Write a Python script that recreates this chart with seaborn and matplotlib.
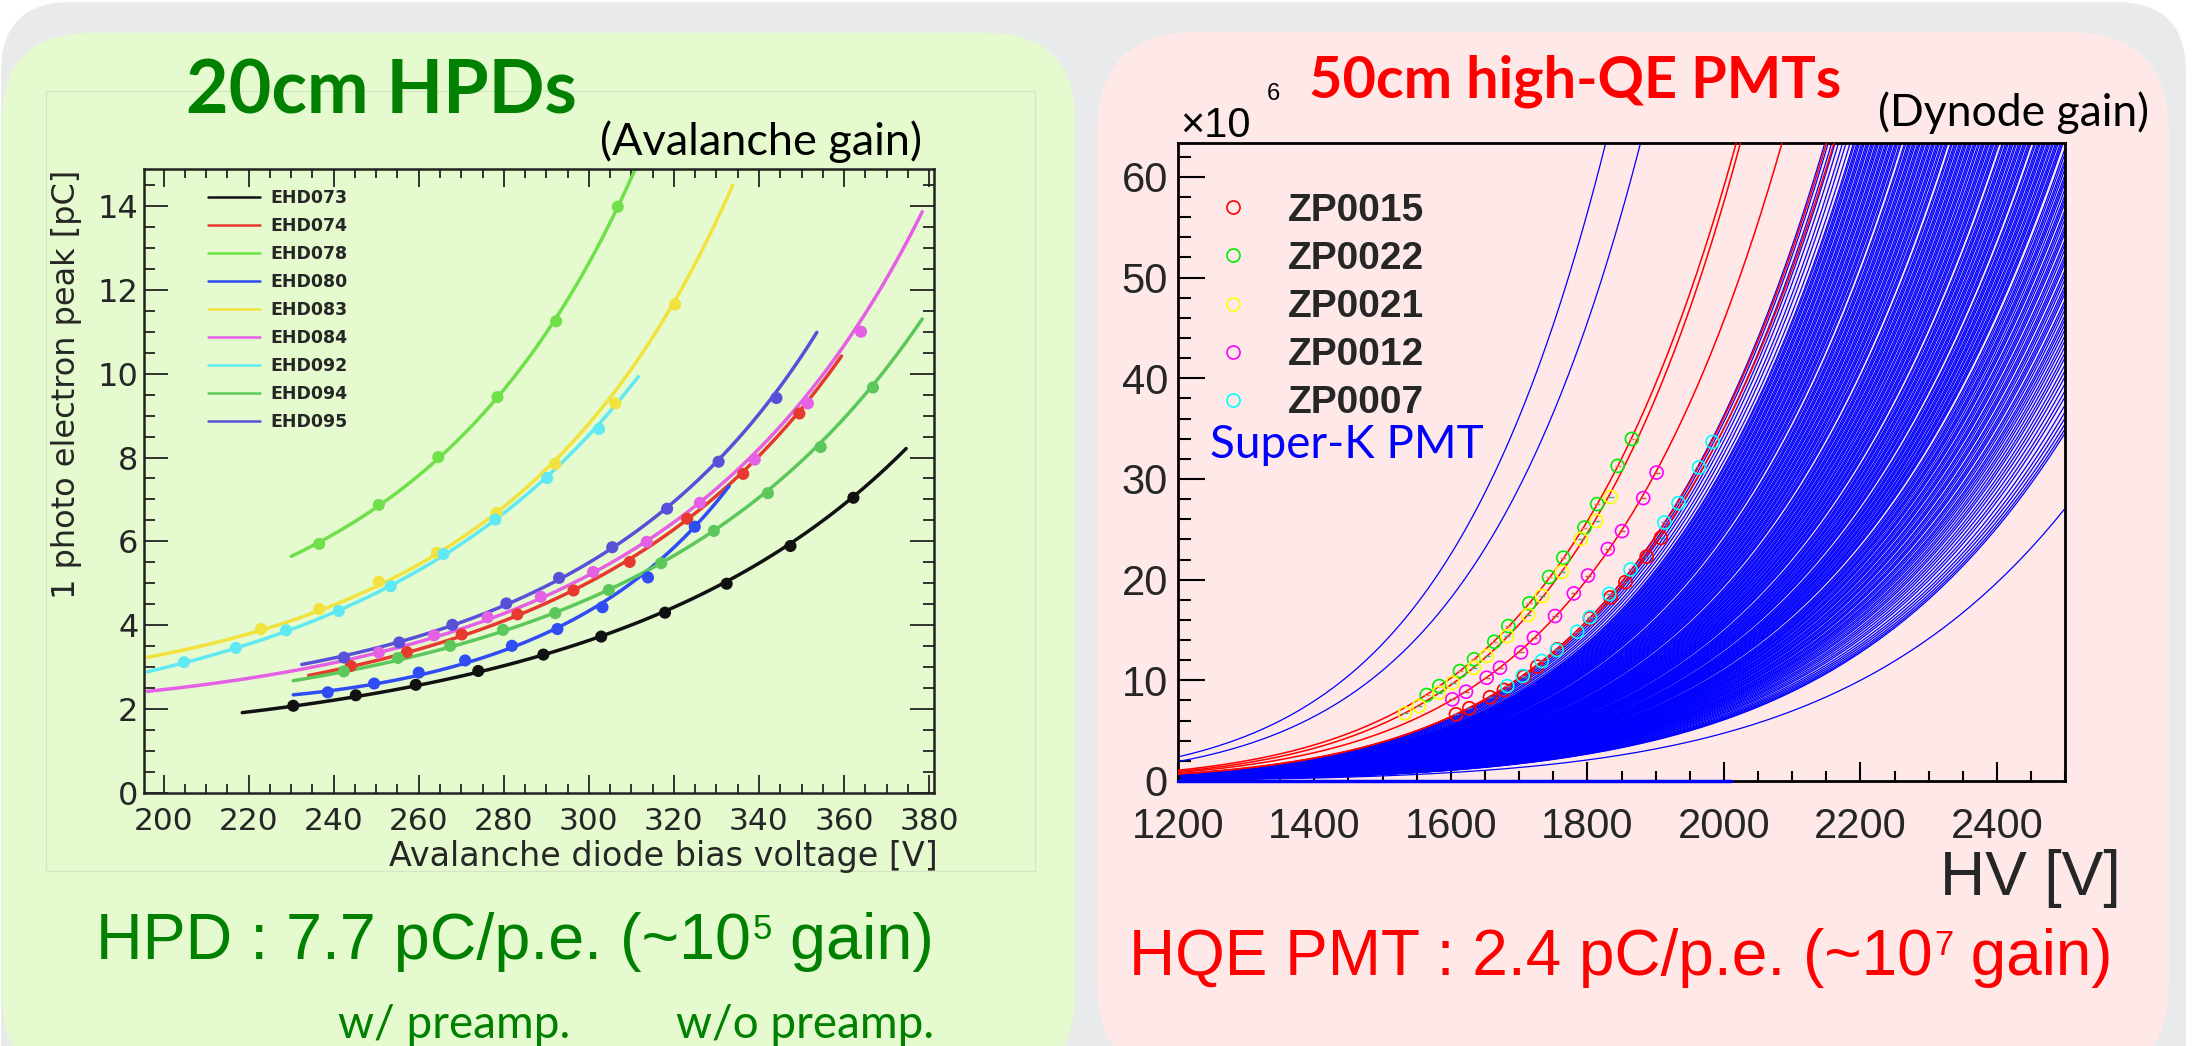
import numpy as np
import pandas as pd
import matplotlib
matplotlib.use("Agg")
import matplotlib.pyplot as plt
import seaborn as sns
from matplotlib.patches import FancyBboxPatch, Rectangle
from matplotlib.lines import Line2D
from matplotlib.ticker import MultipleLocator

# ---------------- LEFT PANEL DATA: 20cm HPD, 1 p.e. peak [pC] vs avalanche bias [V] ----------------
hpd_names = ["EHD073", "EHD074", "EHD078", "EHD080", "EHD083", "EHD084", "EHD092", "EHD094", "EHD095"]
hpd_colors = ["#111111", "#e63a2e", "#6fe04a", "#2f4cf5", "#f2e23e", "#e660e6", "#60e9f2", "#5cc85c", "#5850d8"]

ehd073_v = [230.5, 245.2, 259.3, 274.0, 289.3, 302.9, 317.9, 332.4, 347.4, 362.2]
ehd073_q = [2.08, 2.33, 2.58, 2.91, 3.30, 3.73, 4.30, 4.99, 5.89, 7.04]
ehd074_v = [244.0, 257.2, 270.1, 283.2, 296.4, 309.6, 323.1, 336.3, 349.5]
ehd074_q = [3.03, 3.36, 3.78, 4.26, 4.83, 5.51, 6.54, 7.61, 9.05]
ehd078_v = [236.6, 250.6, 264.6, 278.5, 292.3, 306.8]
ehd078_q = [5.94, 6.87, 8.01, 9.44, 11.25, 13.98]
ehd080_v = [238.6, 249.5, 260.0, 270.9, 281.9, 292.6, 303.2, 313.9, 324.9]
ehd080_q = [2.40, 2.61, 2.87, 3.16, 3.51, 3.91, 4.43, 5.14, 6.35]
ehd083_v = [222.9, 236.6, 250.6, 264.3, 278.3, 292.1, 306.2, 320.3]
ehd083_q = [3.91, 4.39, 5.04, 5.73, 6.68, 7.85, 9.29, 11.65]
ehd084_v = [250.6, 263.6, 276.2, 288.7, 301.0, 313.6, 326.1, 339.0, 351.5, 364.0]
ehd084_q = [3.35, 3.76, 4.19, 4.68, 5.27, 5.99, 6.92, 7.95, 9.29, 11.0]
ehd092_v = [204.8, 217.0, 228.8, 241.2, 253.4, 265.8, 278.0, 290.2, 302.4]
ehd092_q = [3.12, 3.46, 3.88, 4.34, 4.93, 5.70, 6.52, 7.51, 8.68]
ehd094_v = [242.4, 255.1, 267.4, 279.8, 292.1, 304.7, 317.0, 329.4, 342.1, 354.5, 366.8]
ehd094_q = [2.90, 3.22, 3.51, 3.89, 4.29, 4.84, 5.48, 6.25, 7.15, 8.25, 9.67]
ehd095_v = [242.4, 255.4, 267.9, 280.6, 293.0, 305.5, 318.4, 330.5, 344.1]
ehd095_q = [3.23, 3.59, 4.01, 4.52, 5.13, 5.86, 6.78, 7.90, 9.42]

# ends of each fit line (start V, start Q, end V, end Q)
fit_start_v = [218.5, 234.1, 230.0, 230.5, 196.2, 196.2, 196.2, 230.5, 232.5]
fit_start_q = [1.88, 2.77, 5.66, 2.32, 3.19, 2.40, 2.87, 2.63, 3.09]
fit_end_v = [374.6, 359.4, 310.8, 333.0, 333.8, 378.4, 311.6, 378.4, 353.6]
fit_end_q = [8.36, 10.54, 14.9, 7.54, 14.9, 14.5, 10.06, 11.53, 11.16]

# ---------------- RIGHT PANEL DATA: 50cm PMT gain [x10^6] vs HV [V] ----------------
zp_names = ["ZP0015", "ZP0022", "ZP0021", "ZP0012", "ZP0007"]
zp_colors = ["#ff0000", "#00ee00", "#ffff00", "#ff00ff", "#00ffff"]

zp0015_hv = [1607.6, 1627.1, 1657.4, 1677.9, 1707.2, 1726.7, 1756.0, 1803.8, 1834.0, 1855.8, 1886.9, 1907.7]
zp0015_gain = [6.62, 7.22, 8.31, 9.04, 10.36, 11.36, 13.08, 16.16, 18.23, 19.75, 22.28, 24.15]
zp0022_hv = [1564.7, 1583.1, 1613.4, 1634.0, 1663.7, 1684.2, 1715.0, 1743.9, 1764.7, 1795.8, 1814.4, 1844.4, 1865.2]
zp0022_gain = [8.54, 9.43, 10.92, 12.09, 13.83, 15.39, 17.65, 20.26, 22.18, 25.17, 27.50, 31.30, 33.98]
zp0021_hv = [1532.9, 1553.4, 1583.1, 1602.8, 1633.9, 1652.5, 1682.7, 1713.2, 1733.5, 1762.6, 1790.5, 1813.4, 1834.0]
zp0021_gain = [6.72, 7.45, 8.77, 9.76, 11.25, 12.41, 14.40, 16.50, 18.38, 20.77, 24.05, 25.83, 28.21]
zp0012_hv = [1602.2, 1622.2, 1652.5, 1672.0, 1702.8, 1721.8, 1752.6, 1780.2, 1800.9, 1829.9, 1850.7, 1881.8, 1901.4]
zp0012_gain = [8.11, 8.87, 10.26, 11.25, 12.78, 14.23, 16.39, 18.63, 20.41, 23.04, 24.82, 28.10, 30.64]
zp0007_hv = [1682.7, 1705.3, 1733.1, 1755.1, 1785.2, 1803.8, 1832.0, 1863.2, 1912.8, 1933.5, 1963.6, 1983.3]
zp0007_gain = [9.43, 10.43, 11.92, 13.01, 14.83, 16.26, 18.58, 21.01, 25.68, 27.60, 31.15, 33.68]

# Super-K PMT gain curves: HV where each curve leaves the top of the frame,
# or gain where it leaves the right edge (2500 V); common power-law index
sk_hv_at_top = [1827, 1878, 2148, 2153, 2158, 2163, 2168, 2174, 2179, 2185,
                2190, 2192, 2195, 2197, 2199, 2202, 2204, 2206, 2209, 2211, 2213, 2216, 2218, 2220,
                2223, 2225, 2227, 2230, 2232, 2234, 2237, 2239, 2241, 2244, 2246, 2248, 2251, 2253,
                2255, 2258, 2260, 2265, 2267, 2270, 2272, 2274, 2277, 2279, 2281, 2284, 2286, 2288,
                2291, 2293, 2295, 2298, 2300, 2302, 2305, 2307, 2309, 2312, 2314, 2316, 2319, 2321,
                2324, 2326, 2328, 2333, 2335, 2338, 2340, 2342, 2345, 2347, 2349, 2352, 2354, 2356,
                2359, 2361, 2363, 2366, 2368, 2370, 2373, 2375, 2378, 2380, 2382, 2385, 2387, 2389,
                2392, 2394, 2396, 2399, 2401, 2403, 2408, 2410, 2413, 2415, 2417, 2420, 2422, 2424,
                2427, 2429, 2432, 2434, 2436, 2439, 2441, 2443, 2446, 2448, 2450, 2455, 2457, 2460,
                2462, 2464, 2467, 2469, 2471, 2474, 2476, 2478, 2481, 2483, 2486, 2488, 2490, 2493,
                2495, 2497]
sk_gain_at_2500 = [62.9, 62.4, 61.8, 61.4, 60.9, 60.3, 59.9, 59.5, 58.9, 58.3, 57.9, 57.5, 56.8, 56.4,
                   55.9, 55.3, 54.9, 54.5, 53.8, 53.4, 52.9, 52.3, 51.9, 51.5, 50.8, 50.4, 49.9, 49.3,
                   48.9, 48.5, 47.8, 47.4, 46.9, 46.3, 45.9, 45.4, 44.9, 44.3, 43.8, 43.2, 42.6, 42.1,
                   41.4, 40.8, 40.2, 39.5, 38.8, 38.2, 37.4, 36.7, 36.1, 35.5, 35.0, 34.6, 27.1]
sk_gain_index = 7.8
sk_flat_hv = [1200, 2010]
sk_flat_gain = [0.0, 0.0]

X_RANGE_L = (195.4, 381.15)
Y_RANGE_L = (0, 14.88)
X_RANGE_R = (1200, 2500)
Y_RANGE_R = (0, 63.4)

# ---------------- build tables ----------------
hpd_v = [ehd073_v, ehd074_v, ehd078_v, ehd080_v, ehd083_v, ehd084_v, ehd092_v, ehd094_v, ehd095_v]
hpd_q = [ehd073_q, ehd074_q, ehd078_q, ehd080_q, ehd083_q, ehd084_q, ehd092_q, ehd094_q, ehd095_q]
pts_rows, line_rows = [], []
for i, name in enumerate(hpd_names):
    v = np.array(hpd_v[i]); q = np.array(hpd_q[i])
    for a, b in zip(v, q):
        pts_rows.append((name, a, b))
    vv = np.concatenate([[fit_start_v[i]], v, [fit_end_v[i]]])
    qq = np.concatenate([[fit_start_q[i]], q, [fit_end_q[i]]])
    coef = np.polyfit(vv - 300.0, np.log(qq), 2)
    grid = np.linspace(fit_start_v[i], fit_end_v[i], 120)
    for a, b in zip(grid, np.exp(np.polyval(coef, grid - 300.0))):
        line_rows.append((name, a, b))
hpd_pts = pd.DataFrame(pts_rows, columns=["device", "V", "Q"])
hpd_lines = pd.DataFrame(line_rows, columns=["device", "V", "Q"])

sk_rows = []
pid = 0
for vt in sk_hv_at_top:
    grid = np.linspace(1200, min(vt * 1.01, 2500), 150)
    for a, b in zip(grid, Y_RANGE_R[1] * (grid / vt) ** sk_gain_index):
        sk_rows.append((pid, a, b))
    pid += 1
for g in sk_gain_at_2500:
    grid = np.linspace(1200, 2500, 150)
    for a, b in zip(grid, g * (grid / 2500.0) ** sk_gain_index):
        sk_rows.append((pid, a, b))
    pid += 1
sk_df = pd.DataFrame(sk_rows, columns=["pmt", "hv", "gain"])

zp_hv = [zp0015_hv, zp0022_hv, zp0021_hv, zp0012_hv, zp0007_hv]
zp_gain = [zp0015_gain, zp0022_gain, zp0021_gain, zp0012_gain, zp0007_gain]
zfit_rows = []
for i, name in enumerate(zp_names):
    k, c = np.polyfit(np.log(zp_hv[i]), np.log(zp_gain[i]), 1)
    grid = np.linspace(1200, 2250, 200)
    for a, b in zip(grid, np.exp(c) * grid ** k):
        zfit_rows.append((name, a, b))
zfit = pd.DataFrame(zfit_rows, columns=["zp", "hv", "gain"])

# ---------------- figure ----------------
sns.set_theme(style="ticks")
plt.rcParams["font.family"] = ["DejaVu Sans"]
plt.rcParams["axes.unicode_minus"] = False

W, H = 2209, 1046
fig = plt.figure(figsize=(W / 100, H / 100), dpi=100)
fig.patch.set_facecolor("white")
bg = fig.add_axes([0, 0, 1, 1], zorder=0)
bg.set_xlim(0, W); bg.set_ylim(H, 0); bg.axis("off")


def rbox(x0, y0, x1, y1, r, fc):
    bg.add_patch(FancyBboxPatch((x0, y0), x1 - x0, y1 - y0,
                                boxstyle=f"round,pad=0,rounding_size={r}", fc=fc, ec="none"))


rbox(1, 2, 2186, 1300, 70, "#e9eaec")
rbox(2, 33, 1075, 1083, 88, "#e5face")
rbox(1097, 32, 2169, 1083, 100, "#fee8e8")
bg.add_patch(Rectangle((45.6, 90.7), 989.4, 780, fill=False, ec="#d4e4c6", lw=0.8))

# ---- left axes ----
axl = fig.add_axes([144 / W, (H - 793) / H, 790 / W, 624 / H], zorder=2)
axl.set_facecolor("none")
pal_l = dict(zip(hpd_names, hpd_colors))
sns.lineplot(data=hpd_lines, x="V", y="Q", hue="device", palette=pal_l, hue_order=hpd_names,
             estimator=None, sort=False, lw=2.5, legend=False, ax=axl)
sns.scatterplot(data=hpd_pts, x="V", y="Q", hue="device", palette=pal_l, hue_order=hpd_names,
                s=76, linewidth=0, legend=False, ax=axl, zorder=3)
axl.set_xlim(*X_RANGE_L); axl.set_ylim(*Y_RANGE_L)
axl.xaxis.set_major_locator(MultipleLocator(20)); axl.xaxis.set_minor_locator(MultipleLocator(5))
axl.yaxis.set_major_locator(MultipleLocator(2)); axl.yaxis.set_minor_locator(MultipleLocator(0.5))
axl.tick_params(which="both", direction="in", top=True, right=True, color="#222222", width=1.3)
axl.tick_params(axis="x", which="major", length=13, pad=10, labelsize=22.5)
axl.tick_params(axis="x", which="minor", length=6.5)
axl.tick_params(axis="y", which="major", length=17, pad=4, labelsize=23)
axl.tick_params(axis="y", which="minor", length=8)
for s in axl.spines.values():
    s.set_color("#222222"); s.set_linewidth(1.8)
axl.set_xlabel("Avalanche diode bias voltage [V]", fontsize=24)
axl.xaxis.set_label_coords((938 - 144) / 790, (793 - 866) / 624)
axl.xaxis.label.set(ha="right", va="baseline")
axl.set_ylabel("1 photo electron peak [pC]", fontsize=23)
axl.yaxis.set_label_coords((67 - 144) / 790, (793 - 170) / 624)
axl.yaxis.label.set(ha="center", va="top", rotation_mode="default")
hl = [Line2D([], [], color=c, lw=1.8) for c in hpd_colors]
axl.legend(hl, hpd_names, loc="upper left", bbox_to_anchor=(208 / W, 1 - 189 / H),
           bbox_transform=fig.transFigure, frameon=False,
           prop=dict(family="DejaVu Sans", weight="bold", size=12.5),
           handlelength=3.0, handletextpad=0.6, labelspacing=0.575, borderpad=0, borderaxespad=0)

# ---- right axes ----
axr = fig.add_axes([1177.7 / W, (H - 781) / H, 887.6 / W, 638.3 / H], zorder=2)
axr.set_facecolor("none")
sns.lineplot(data=sk_df, x="hv", y="gain", units="pmt", estimator=None, sort=False,
             color="#0000ff", lw=0.9, ax=axr)
sns.lineplot(x=sk_flat_hv, y=sk_flat_gain, color="#0000ff", lw=2.5, ax=axr, clip_on=False, zorder=4)
sns.lineplot(data=zfit, x="hv", y="gain", units="zp", estimator=None, sort=False,
             color="#ff0000", lw=1.1, ax=axr, zorder=3)
for i, name in enumerate(zp_names):
    sns.scatterplot(x=zp_hv[i], y=zp_gain[i], marker="o", s=88, facecolor="none",
                    edgecolor=zp_colors[i], linewidth=1.2, ax=axr, zorder=5)
    sns.scatterplot(x=zp_hv[i], y=zp_gain[i], marker="_", s=25, edgecolor=zp_colors[i],
                    linewidth=1.0, ax=axr, zorder=5)
axr.set_xlim(*X_RANGE_R); axr.set_ylim(*Y_RANGE_R)
axr.xaxis.set_major_locator(MultipleLocator(200)); axr.xaxis.set_minor_locator(MultipleLocator(50))
axr.yaxis.set_major_locator(MultipleLocator(10)); axr.yaxis.set_minor_locator(MultipleLocator(2))
axr.tick_params(which="both", direction="in", top=False, right=False, color="black", width=1.5,
                labelfontfamily="Liberation Sans")
axr.tick_params(axis="x", which="major", length=13.7, pad=19, labelsize=30)
axr.tick_params(axis="x", which="minor", length=7.2)
axr.tick_params(axis="y", which="major", length=19.4, pad=7, labelsize=30)
axr.tick_params(axis="y", which="minor", length=9.4)
for s in axr.spines.values():
    s.set_color("black"); s.set_linewidth(2.0)
axr.set_ylabel("")
axr.set_xlabel("HV [V]", fontsize=45, family="Liberation Sans")
axr.xaxis.set_label_coords((2121 - 1177.7) / 887.6, (781 - 895) / 638.3)
axr.xaxis.label.set(ha="right", va="baseline")
zh = [Line2D([], [], marker="o", ls="none", mfc="none", mec=c, ms=9.4, mew=1.2) for c in zp_colors]
axr.legend(zh, zp_names, loc="upper left", bbox_to_anchor=(1194 / W, 1 - 193 / H),
           bbox_transform=fig.transFigure, frameon=False,
           prop=dict(family="Liberation Sans", weight="bold", size=28),
           handlelength=2.0, handletextpad=0.41, labelspacing=0.31, borderpad=0, borderaxespad=0)

# ---- texts ----
GREEN, RED = "#008000", "#ff0000"
bg.text(186, 113, "20cm HPDs", fontsize=53, fontweight="bold", color=GREEN, family="Lato",
        ha="left", va="baseline")
bg.text(600, 155, "(Avalanche gain)", fontsize=32.5, color="black", family="Lato", ha="left", va="baseline")
bg.text(1309, 98, "50cm high-QE PMTs", fontsize=41.5, fontweight="bold", color=RED, family="Lato",
        ha="left", va="baseline")
bg.text(1878, 126, "(Dynode gain)", fontsize=32, color="black", family="Lato", ha="left", va="baseline")
bg.text(1210, 458, "Super-K PMT", fontsize=33, color="#0000ff", family="Lato", ha="left", va="baseline")
bg.text(1180, 137, "\u00d710", fontsize=30, color="black", family="Liberation Sans", ha="left", va="baseline")
bg.text(1267, 100, "6", fontsize=17, color="black", family="Liberation Sans", ha="left", va="baseline")


def sup_text(x, y, before, sup, after, size, sup_size, raise_px, color):
    kw = dict(color=color, family="Liberation Sans", va="baseline", ha="left")
    t1 = bg.text(x, y, before, fontsize=size, **kw)
    t2 = bg.annotate(sup, xy=(1, y - raise_px), xycoords=(t1, "data"), xytext=(1, 0),
                     textcoords="offset points", fontsize=sup_size, **kw)
    bg.annotate(after, xy=(1, y), xycoords=(t2, "data"), xytext=(0, 0),
                textcoords="offset points", fontsize=size, **kw)


sup_text(96, 959, "HPD : 7.7 pC/p.e. (~10", "5", " gain)", 46.5, 25, 20, GREEN)
sup_text(1129, 975, "HQE PMT : 2.4 pC/p.e. (~10", "7", " gain)", 46, 25, 20, RED)
bg.text(338, 1038, "w/ preamp.", fontsize=33, color=GREEN, family="Lato", ha="left", va="baseline")
bg.text(676, 1038, "w/o preamp.", fontsize=33, color=GREEN, family="Lato", ha="left", va="baseline")

fig.savefig("out.png", dpi=100, facecolor=fig.get_facecolor())
